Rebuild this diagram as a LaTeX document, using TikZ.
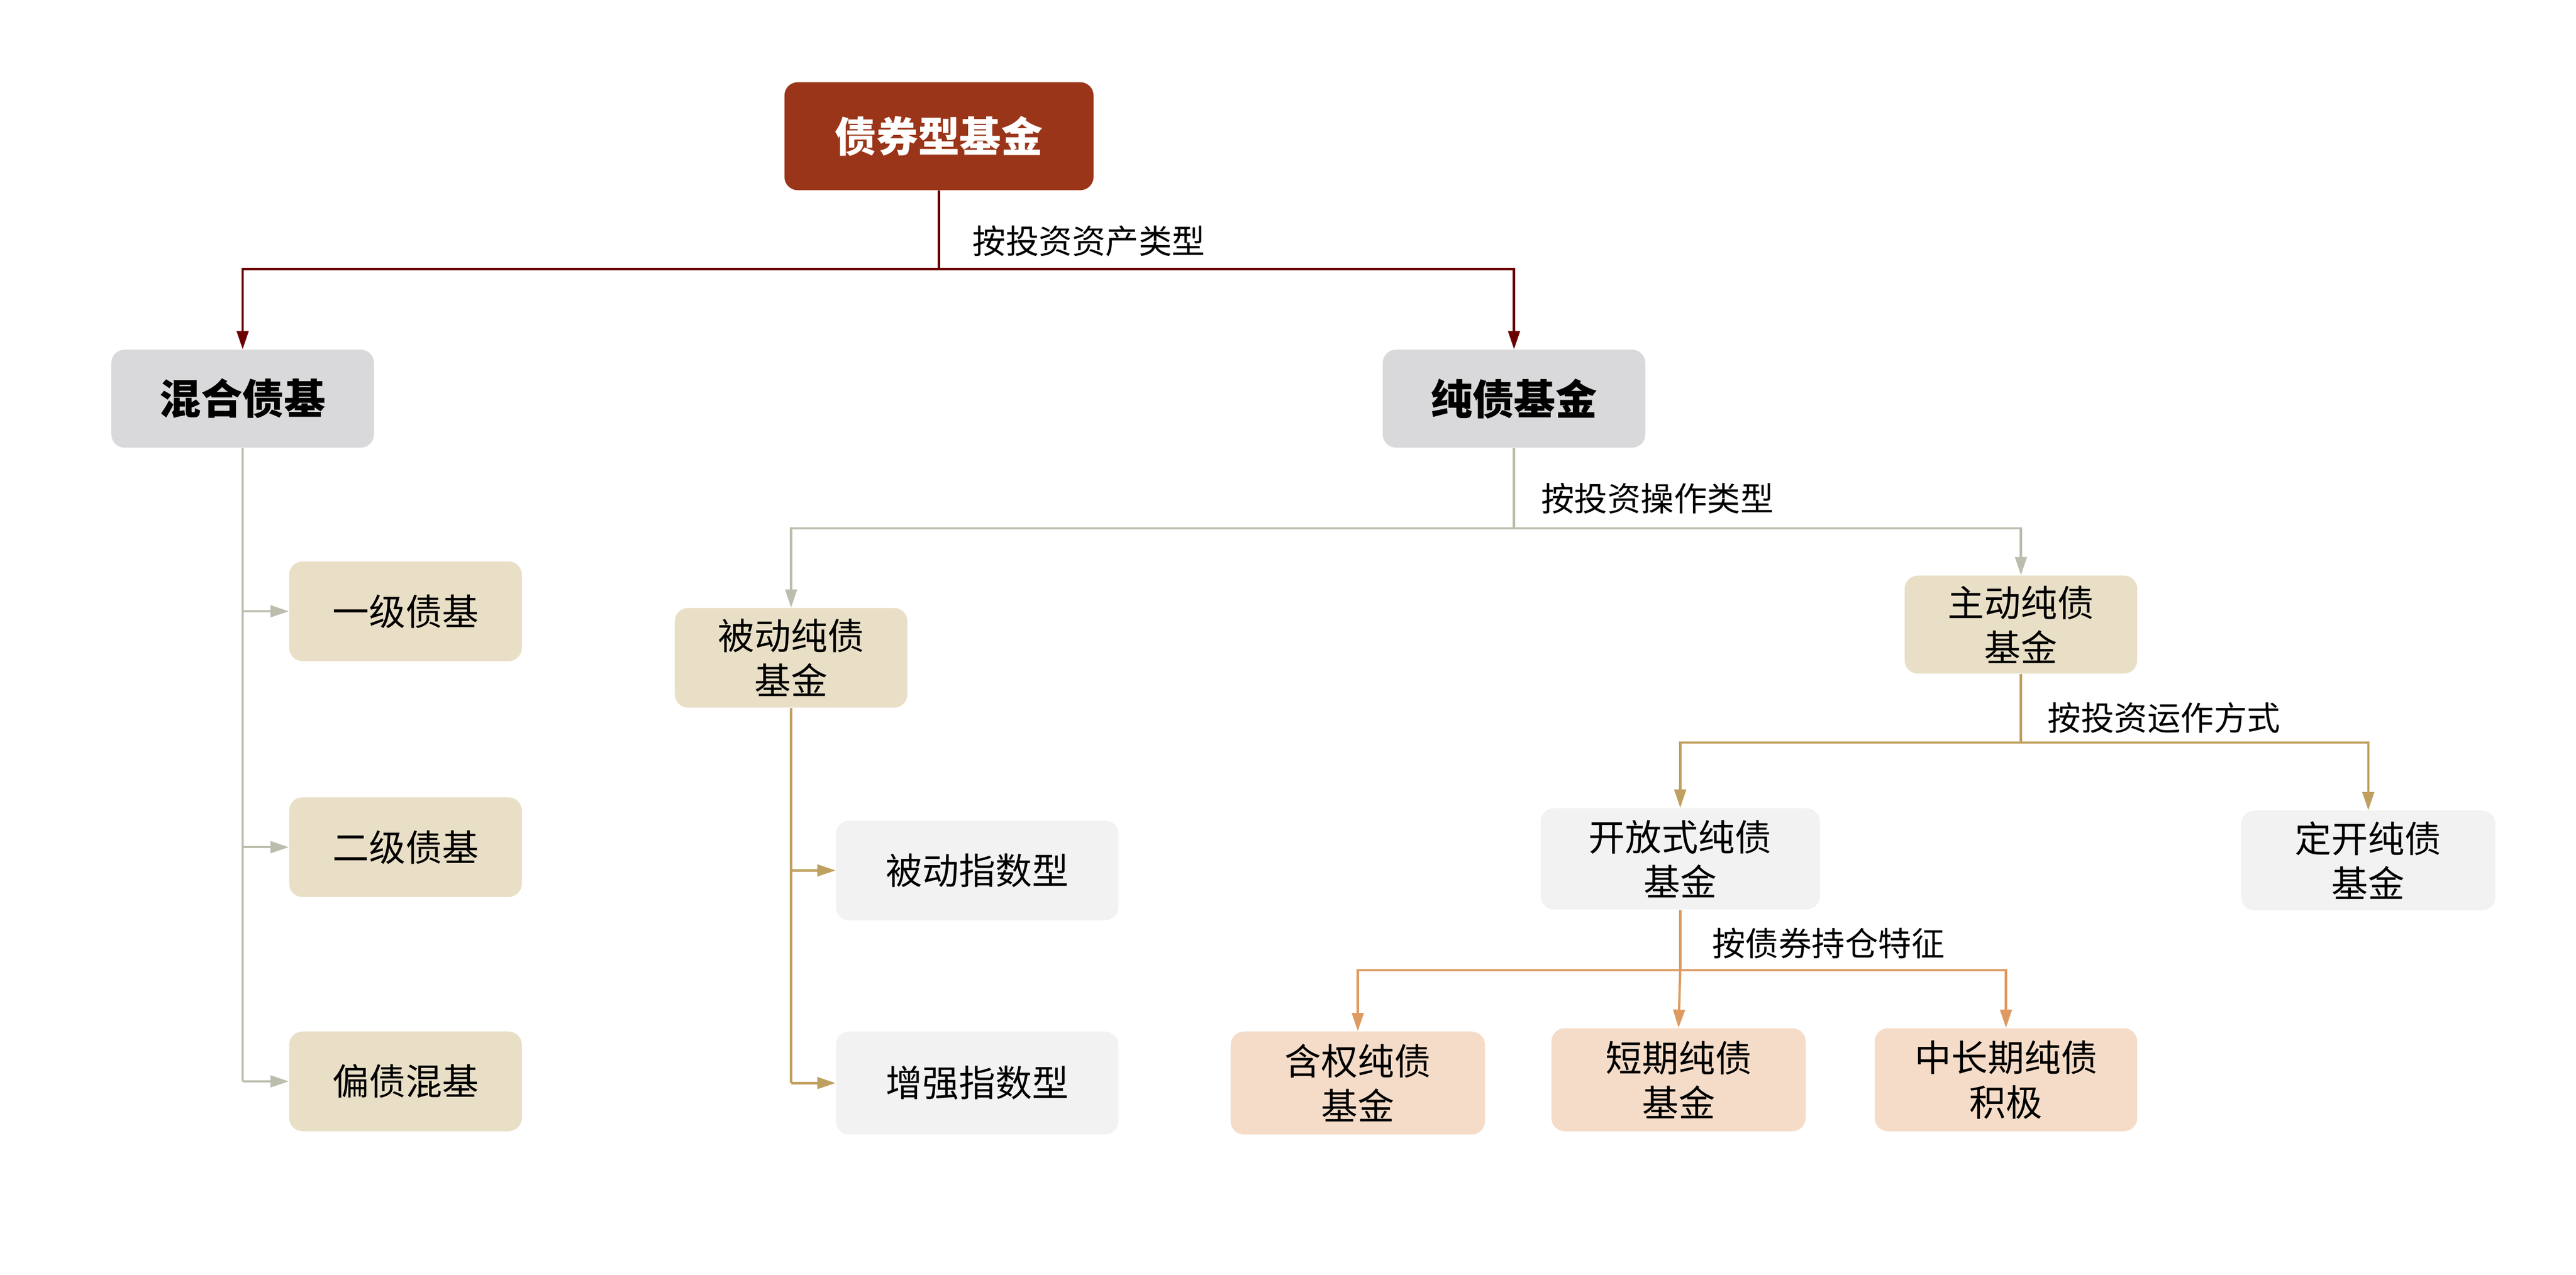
\documentclass[tikz,border=0pt]{standalone}
\usepackage{fontspec}
\setmainfont{Noto Sans CJK SC}
\usetikzlibrary{arrows.meta}
\definecolor{topc}{HTML}{9A3519}
\definecolor{grayc}{HTML}{D9D9DB}
\definecolor{tanc}{HTML}{E9DFC7}
\definecolor{lightc}{HTML}{F2F2F2}
\definecolor{peachc}{HTML}{F5DCC8}
\definecolor{lred}{HTML}{6B0000}
\definecolor{lgray}{HTML}{BDBDAE}
\definecolor{lgold}{HTML}{C0A060}
\definecolor{lorange}{HTML}{DE9A60}
\tikzset{
 box/.style={rounded corners=8pt, align=center, inner sep=0pt, font=\fontsize{22}{27}\selectfont},
 bx/.style n args={3}{box, fill=#3, minimum width=#1pt, minimum height=#2pt},
 conn/.style={line width=1.4pt, -{Triangle[length=11pt,width=7pt]}},
 lab/.style={anchor=west, inner sep=0pt, font=\fontsize{20}{24}\selectfont},
}
\begin{document}
\begin{tikzpicture}[x=1pt,y=-1pt]
\useasboundingbox (0,0) rectangle (1550,767.3);
\node[bx={186}{65}{topc}, text=white, font=\fontsize{25}{30}\selectfont\bfseries] (top) at (565,82) {债券型基金};
\node[bx={158}{59}{grayc}, font=\fontsize{25}{30}\selectfont\bfseries] (mix) at (146,240) {混合债基};
\node[bx={158}{59}{grayc}, font=\fontsize{25}{30}\selectfont\bfseries] (pure) at (911,240) {纯债基金};
\node[bx={140}{60}{tanc}] (y1) at (244,368) {一级债基};
\node[bx={140}{60}{tanc}] (y2) at (244,510) {二级债基};
\node[bx={140}{60}{tanc}] (y3) at (244,651) {偏债混基};
\node[bx={140}{60}{tanc}] (pas) at (476,396) {被动纯债\\基金};
\node[bx={170}{60}{lightc}] (p1) at (588,524) {被动指数型};
\node[bx={170}{62}{lightc}] (p2) at (588,652) {增强指数型};
\node[bx={140}{59}{tanc}] (act) at (1216,376) {主动纯债\\基金};
\node[bx={168}{61}{lightc}] (open) at (1011,517) {开放式纯债\\基金};
\node[bx={153}{60}{lightc}] (fix) at (1425,518) {定开纯债\\基金};
\node[bx={153}{62}{peachc}] (o1) at (817,652) {含权纯债\\基金};
\node[bx={153}{62}{peachc}] (o2) at (1010,650) {短期纯债\\基金};
\node[bx={158}{62}{peachc}] (o3) at (1207,650) {中长期纯债\\积极};
% level 1
\coordinate (j1) at (565,162);
\draw[line width=1.4pt, lred] (top.south) -- (j1);
\draw[conn, lred] (j1) -| (mix.north);
\draw[conn, lred] (j1) -| (pure.north);
\node[lab] (l1) at (585,145) {按投资资产类型};
% mixed
\draw[line width=1.4pt, lgray] (mix.south) -- (mix.south |- y3.west);
\foreach \n in {y1,y2,y3} \draw[conn, lgray] (mix.south |- \n.west) -- (\n.west);
% pure
\coordinate (j2) at (911,318);
\draw[line width=1.4pt, lgray] (pure.south) -- (j2);
\draw[conn, lgray] (j2) -| (pas.north);
\draw[conn, lgray] (j2) -| (act.north);
\node[lab] (l2) at (927,300) {按投资操作类型};
% passive
\draw[line width=1.4pt, lgold] (pas.south) -- (pas.south |- p2.west);
\foreach \n in {p1,p2} \draw[conn, lgold] (pas.south |- \n.west) -- (\n.west);
% active
\coordinate (j3) at (1216,447);
\draw[line width=1.4pt, lgold] (act.south) -- (j3);
\draw[conn, lgold] (j3) -| (open.north);
\draw[conn, lgold] (j3) -| (fix.north);
\node[lab] (l3) at (1232,432) {按投资运作方式};
% open
\coordinate (j4) at (1011,584);
\draw[line width=1.4pt, lorange] (open.south) -- (j4);
\draw[conn, lorange] (j4) -| (o1.north);
\draw[conn, lorange] (j4) -- (o2.north);
\draw[conn, lorange] (j4) -| (o3.north);
\node[lab] (l4) at (1030,568) {按债券持仓特征};
\end{tikzpicture}
\end{document}
